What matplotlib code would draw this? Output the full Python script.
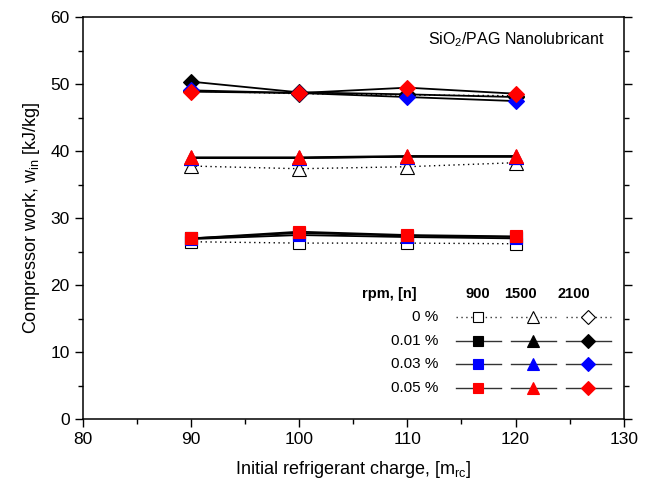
import matplotlib
matplotlib.use("Agg")
from matplotlib import pyplot as plt
from matplotlib.ticker import MultipleLocator

plt.rcParams["font.family"] = ["Liberation Sans", "DejaVu Sans"]
plt.rcParams["mathtext.fontset"] = "custom"
plt.rcParams["mathtext.rm"] = "Liberation Sans"
plt.rcParams["mathtext.it"] = "Liberation Sans"

charge = [90, 100, 110, 120]
concentrations = ["0 %", "0.01 %", "0.03 %", "0.05 %"]
speeds = ["900", "1500", "2100"]

# compressor work [kJ/kg], keyed by (concentration, rpm)
work = {
	("0 %", "900"): [26.5, 26.3, 26.3, 26.2],
	("0.01 %", "900"): [27.0, 27.8, 27.4, 27.2],
	("0.03 %", "900"): [26.9, 27.5, 27.2, 27.0],
	("0.05 %", "900"): [27.0, 28.0, 27.5, 27.3],
	("0 %", "1500"): [37.8, 37.4, 37.7, 38.3],
	("0.01 %", "1500"): [39.0, 39.0, 39.2, 39.2],
	("0.03 %", "1500"): [39.0, 39.0, 39.2, 39.2],
	("0.05 %", "1500"): [39.1, 39.1, 39.3, 39.3],
	("0 %", "2100"): [49.0, 48.6, 48.4, 48.3],
	("0.01 %", "2100"): [50.4, 48.8, 48.5, 48.1],
	("0.03 %", "2100"): [49.1, 48.7, 48.1, 47.5],
	("0.05 %", "2100"): [48.9, 48.7, 49.5, 48.6],
}

face = {"0 %": "white", "0.01 %": "black", "0.03 %": "#0000ff", "0.05 %": "#ff0000"}
edge = {"0 %": "black", "0.01 %": "black", "0.03 %": "#0000ff", "0.05 %": "#ff0000"}
style = {"0 %": (0, (1, 2.5)), "0.01 %": "-", "0.03 %": "-", "0.05 %": "-"}
marker = {"900": "s", "1500": "^", "2100": "D"}
msize = {"900": 8, "1500": 9.5, "2100": 8.5}

fig = plt.figure(figsize=(6.58, 4.92), dpi=100)
ax = fig.add_axes([0.1257, 0.1478, 0.8223, 0.817])

for rpm in speeds:
	for conc in concentrations:
		ax.plot(charge, work[(conc, rpm)], linestyle=style[conc], color="black",
			linewidth=1.0 if conc == "0 %" else 1.3,
			marker=marker[rpm], markersize=msize[rpm],
			markerfacecolor=face[conc], markeredgecolor=edge[conc], markeredgewidth=0.8)

ax.set_xlim(80, 130)
ax.set_ylim(0, 60)
ax.xaxis.set_major_locator(MultipleLocator(10))
ax.xaxis.set_minor_locator(MultipleLocator(5))
ax.yaxis.set_major_locator(MultipleLocator(10))
ax.yaxis.set_minor_locator(MultipleLocator(5))
ax.tick_params(which="both", direction="out", labelsize=12.5, width=1.0)
ax.tick_params(which="major", length=6)
ax.tick_params(which="minor", length=3.5)
ax.tick_params(axis="y", which="both", right=True)
for s in ax.spines.values():
	s.set_linewidth(1.1)

ax.set_xlabel(r"Initial refrigerant charge, [m$_{\rm rc}$]", fontsize=13, labelpad=8)
ax.set_ylabel(r"Compressor work, w$_{\rm in}$ [kJ/kg]", fontsize=13, labelpad=6)

ax.text(0.965, 0.945, r"SiO$_2$/PAG Nanolubricant", transform=ax.transAxes,
	ha="right", va="center", fontsize=11.5)

# hand-built legend table: one row per concentration, one column per rpm
tr = ax.transData.inverted()
def to_data(px, py):
	return tr.transform(fig.transFigure.transform((px / 658, 1 - py / 492)))

hx, hy = to_data(417, 294)
ax.text(hx, hy, "rpm, [n]", ha="right", va="center", fontsize=10.5, fontweight="bold")
col_x = [478, 533, 588]
head_x = [478, 520, 574]
for rpm, cx in zip(speeds, head_x):
	tx, ty = to_data(cx, 294)
	ax.text(tx, ty, rpm, ha="center", va="center", fontsize=10.5, fontweight="bold")

row_y = [317, 341, 364, 388]
for conc, ry in zip(concentrations, row_y):
	lx, ly = to_data(438, ry)
	ax.text(lx, ly, conc, ha="right", va="center", fontsize=11)
	for rpm, cx in zip(speeds, col_x):
		x0, y0 = to_data(cx - 22, ry)
		x1, _ = to_data(cx + 23, ry)
		xm, _ = to_data(cx, ry)
		ax.plot([x0, x1], [y0, y0], linestyle=style[conc], color="#333333",
			linewidth=1.0, clip_on=False)
		ax.plot([xm], [y0], marker=marker[rpm], markersize=msize[rpm] - 1,
			markerfacecolor=face[conc], markeredgecolor=edge[conc],
			markeredgewidth=0.8, linestyle="none")

fig.savefig("out.png", dpi=100)
